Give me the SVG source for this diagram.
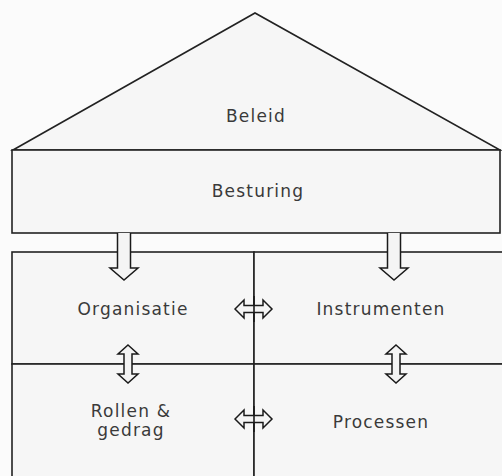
<svg xmlns="http://www.w3.org/2000/svg" width="502" height="476" viewBox="0 0 502 476">
<style>
  .shape { fill: #f6f6f6; stroke: #222; stroke-width: 1.6; }
  .line { fill: none; stroke: #1a1a1a; stroke-width: 1.6; }
  .lbl { font-family: "DejaVu Sans", "Liberation Sans", sans-serif; font-size: 17px; fill: #3a3a3a; letter-spacing: 1.2px; text-anchor: middle; }
  .arrow { fill: #f4f4f4; stroke: #1a1a1a; stroke-width: 1.5; stroke-linejoin: miter; }
</style>
<rect x="0" y="0" width="502" height="476" fill="#fbfbfb"/>
<g id="beleid">
  <polygon class="shape" points="13,150 255,13 500,150"/>
  <text class="lbl" x="256" y="122">Beleid</text>
</g>
<g id="besturing">
  <rect class="shape" x="12" y="150" width="488" height="83"/>
  <text class="lbl" x="258" y="197">Besturing</text>
</g>
<g id="organisatie">
  <rect class="shape" x="12" y="252" width="242" height="112"/>
  <text class="lbl" x="133" y="315">Organisatie</text>
</g>
<g id="instrumenten">
  <rect class="shape" x="254" y="252" width="260" height="112"/>
  <text class="lbl" x="381" y="315">Instrumenten</text>
</g>
<g id="rollen-gedrag">
  <rect class="shape" x="12" y="364" width="242" height="130"/>
  <text class="lbl" x="131" y="417">Rollen &amp;</text>
  <text class="lbl" x="131" y="436">gedrag</text>
</g>
<g id="processen">
  <rect class="shape" x="254" y="364" width="260" height="130"/>
  <text class="lbl" x="381" y="428">Processen</text>
</g>
<g id="connectors">
  <path class="arrow" d="M117.5,233 L117.5,268 L110,268 L124,280 L138,268 L130.5,268 L130.5,233"/>
  <path class="arrow" d="M387.5,233 L387.5,268 L380,268 L394,280 L408,268 L400.5,268 L400.5,233"/>
  <path class="arrow" d="M235,309 L244,300 L244,305.5 L263,305.5 L263,300 L272,309 L263,318 L263,312.5 L244,312.5 L244,318 Z"/>
  <path class="arrow" d="M235,419 L244,410 L244,415.5 L263,415.5 L263,410 L272,419 L263,428 L263,422.5 L244,422.5 L244,428 Z"/>
  <path class="arrow" d="M128,345 L138,354 L132,354 L132,374 L138,374 L128,383 L118,374 L124,374 L124,354 L118,354 Z"/>
  <path class="arrow" d="M396,345 L406,354 L400,354 L400,374 L406,374 L396,383 L386,374 L392,374 L392,354 L386,354 Z"/>
  <line class="line" x1="254" y1="296" x2="254" y2="322"/>
  <line class="line" x1="254" y1="406" x2="254" y2="432"/>
</g>
</svg>
